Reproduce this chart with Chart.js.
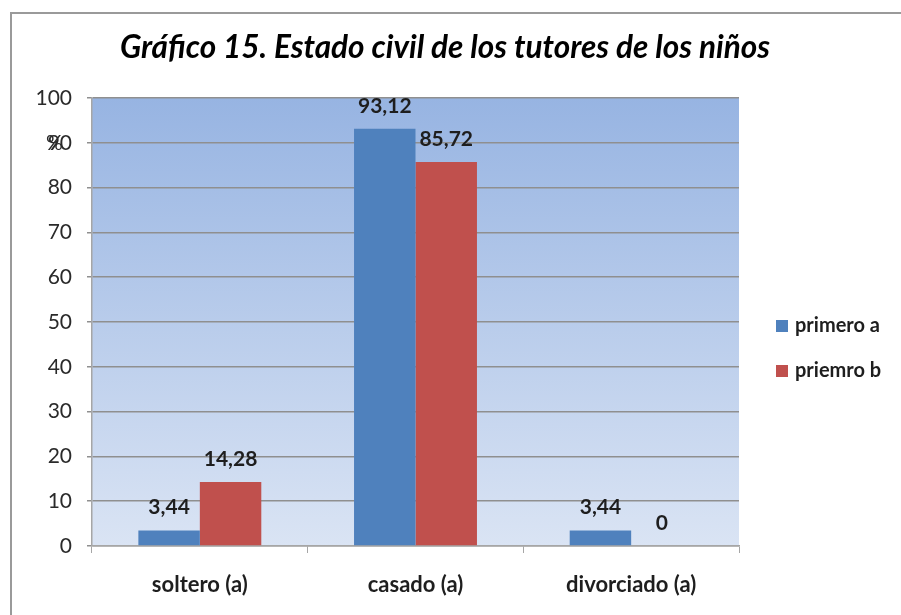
<!DOCTYPE html>
<html>
<head>
<meta charset="utf-8">
<script src="https://cdn.jsdelivr.net/npm/chart.js@4.4.1/dist/chart.umd.min.js"></script>
<style>
  html, body { margin: 0; background: #fff; }
  #wrap { width: 901px; height: 615px; position: relative; }
</style>
</head>
<body>
<div id="wrap"><canvas id="chart" width="901" height="615"></canvas></div>
<script>
// ── Data ──
const categories = ['soltero (a)', 'casado (a)', 'divorciado (a)'];
const seriesNames = ['primero a', 'priemro b'];
const primeroA = [3.44, 93.12, 3.44];
const priemroB = [14.28, 85.72, 0];
const yMin = 0, yMax = 100, yStep = 10;
const titleText = 'Gráfico 15. Estado civil de los tutores de los niños';
const FONT = 'Lato, "Open Sans", sans-serif';

// ── Plugins ──
const frameAndBackground = {
    id: 'frameAndBackground',
    beforeDraw(chart) {
        const { ctx, chartArea: a } = chart;
        ctx.save();
        ctx.strokeStyle = '#9a9a9a';
        ctx.lineWidth = 2;
        ctx.beginPath();
        ctx.moveTo(11, 615); ctx.lineTo(11, 13); ctx.lineTo(901, 13);
        ctx.stroke();
        const g = ctx.createLinearGradient(0, a.top, 0, a.bottom);
        g.addColorStop(0, '#97b4e2');
        g.addColorStop(1, '#dae4f4');
        ctx.fillStyle = g;
        ctx.fillRect(a.left, a.top, a.right - a.left, a.bottom - a.top);
        // title
        ctx.font = 'italic bold 31.5px ' + FONT;
        ctx.fillStyle = '#000';
        ctx.textAlign = 'center';
        ctx.textBaseline = 'middle';
        ctx.fillText(titleText, 445, 48);
        ctx.restore();
    }
};

const valueLabels = {
    id: 'valueLabels',
    afterDatasetsDraw(chart) {
        const { ctx } = chart;
        ctx.save();
        ctx.font = 'bold 21px ' + FONT;
        ctx.fillStyle = '#1e1e1e';
        ctx.textAlign = 'center';
        ctx.textBaseline = 'middle';
        chart.data.datasets.forEach((ds, i) => {
            chart.getDatasetMeta(i).data.forEach((bar, j) => {
                ctx.fillText(String(ds.data[j]).replace('.', ','), bar.x, bar.y - 23);
            });
        });
        ctx.restore();
    }
};

const extras = {
    id: 'extras',
    afterDraw(chart) {
        const { ctx } = chart;
        const y = chart.scales.y;
        ctx.save();
        // "%" sign sitting on the 90 tick
        ctx.font = '21px ' + FONT;
        ctx.fillStyle = '#2a2a2a';
        ctx.textAlign = 'left';
        ctx.textBaseline = 'middle';
        ctx.fillText('%', 46, y.getPixelForValue(90));
        // legend
        const ly = [326, 371];
        ctx.font = 'bold 20px ' + FONT;
        chart.data.datasets.forEach((ds, i) => {
            ctx.fillStyle = ds.backgroundColor;
            ctx.fillRect(776, ly[i] - 6, 12, 12);
            ctx.fillStyle = '#1e1e1e';
            ctx.fillText(ds.label, 795, ly[i]);
        });
        ctx.restore();
    }
};

// ── Chart ──
new Chart(document.getElementById('chart'), {
    type: 'bar',
    data: {
        labels: categories,
        datasets: [
            { label: seriesNames[0], data: primeroA, backgroundColor: '#4f81bd' },
            { label: seriesNames[1], data: priemroB, backgroundColor: '#c0504d' }
        ]
    },
    options: {
        responsive: false,
        animation: false,
        categoryPercentage: 0.57,
        barPercentage: 1.0,
        layout: { padding: { top: 98, right: 162, bottom: 0, left: 0 } },
        plugins: {
            legend: { display: false },
            tooltip: { enabled: false },
            title: { display: false }
        },
        scales: {
            x: {
                grid: { drawOnChartArea: false, tickLength: 7, color: '#a6a6a6' },
                border: { color: '#a6a6a6', width: 1.5 },
                ticks: { color: '#1e1e1e', font: { family: FONT, size: 22, weight: 'bold' }, padding: 19 },
                afterFit(s) { s.height = 69; }
            },
            y: {
                min: yMin, max: yMax,
                grid: { color: '#8f8f8f', lineWidth: 1.5, tickLength: 5 },
                border: { color: '#a6a6a6', width: 1.5 },
                ticks: { stepSize: yStep, color: '#2a2a2a', font: { family: FONT, size: 21 }, padding: 15 },
                afterFit(s) { s.width = 92; }
            }
        }
    },
    plugins: [frameAndBackground, valueLabels, extras]
});
</script>
</body>
</html>
